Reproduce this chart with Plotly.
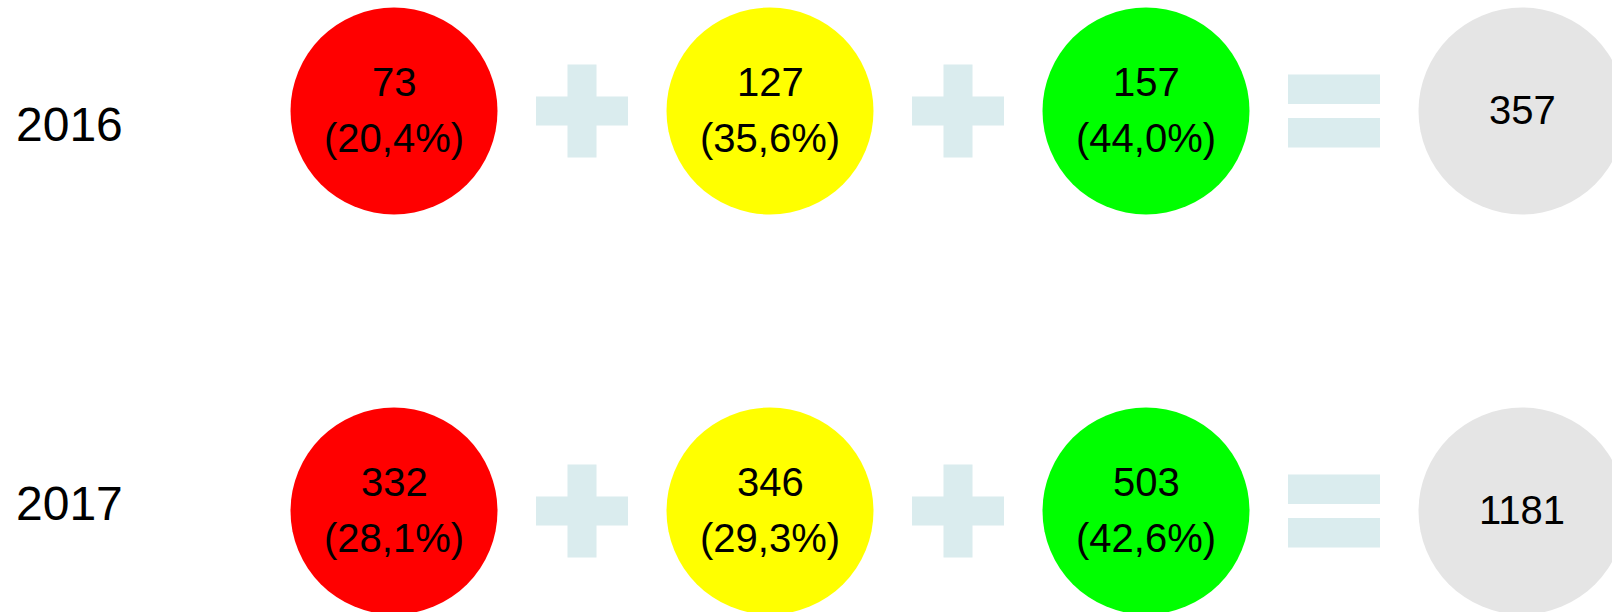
import plotly.graph_objects as go

# ---- data ----
YEARS = ["2016", "2017"]
CATEGORIES = ["rot", "gelb", "grün"]
VALUES_2016 = [73, 127, 157]
VALUES_2017 = [332, 346, 503]
SERIES = [VALUES_2016, VALUES_2017]

# ---- style ----
CAT_COLORS = ["#ff0000", "#ffff00", "#00ff00"]
TOTAL_COLOR = "#e5e5e5"
OP_COLOR = "#daecee"
FONT = "Liberation Sans, Arial, sans-serif"
CIRCLE_PX = 207
TEXT_SIZE = 40
YEAR_SIZE = 48

W, H = 1612, 612

fig = go.Figure()

n_cat = len(CATEGORIES)
xs, ys, cols = [], [], []
for r, vals in enumerate(SERIES):
    for c in range(n_cat):
        xs.append(c); ys.append(r); cols.append(CAT_COLORS[c])
    xs.append(n_cat); ys.append(r); cols.append(TOTAL_COLOR)

fig.add_trace(go.Scatter(
    x=xs, y=ys, mode="markers",
    marker=dict(size=CIRCLE_PX, color=cols, line=dict(width=0)),
    hoverinfo="skip", showlegend=False, cliponaxis=True,
))

annotations = []
shapes = []

def fmt_pct(v, tot):
    return f"({v / tot * 100:.1f}%)".replace(".", ",")

for r, vals in enumerate(SERIES):
    total = sum(vals)
    for c, v in enumerate(vals):
        annotations.append(dict(x=c, y=r, xref="x", yref="y", text=str(v),
                                showarrow=False, yshift=29,
                                font=dict(family=FONT, size=TEXT_SIZE, color="#000")))
        annotations.append(dict(x=c, y=r, xref="x", yref="y", text=fmt_pct(v, total),
                                showarrow=False, yshift=-27,
                                font=dict(family=FONT, size=TEXT_SIZE, color="#000")))
    annotations.append(dict(x=n_cat, y=r, xref="x", yref="y", text=str(total),
                            showarrow=False, yshift=1,
                            font=dict(family=FONT, size=TEXT_SIZE, color="#000")))
    # year label (on the year axis)
    annotations.append(dict(x=-1, y=r, xref="x", yref="y2", text=YEARS[r],
                            showarrow=False, xanchor="left", xshift=-4,
                            font=dict(family=FONT, size=YEAR_SIZE, color="#000")))
    # operators between circles
    for k in range(n_cat):
        xa = k + 0.5
        if k < n_cat - 1:  # plus
            shapes.append(dict(type="rect", xref="x", yref="y", xsizemode="pixel", ysizemode="pixel",
                               xanchor=xa, yanchor=r, x0=-46, x1=46, y0=-14.5, y1=14.5,
                               fillcolor=OP_COLOR, line=dict(width=0), layer="below"))
            shapes.append(dict(type="rect", xref="x", yref="y", xsizemode="pixel", ysizemode="pixel",
                               xanchor=xa, yanchor=r, x0=-14.5, x1=14.5, y0=-46.5, y1=46.5,
                               fillcolor=OP_COLOR, line=dict(width=0), layer="below"))
        else:  # equals
            for y0, y1 in [(7, 36.5), (-36.5, -7)]:
                shapes.append(dict(type="rect", xref="x", yref="y", xsizemode="pixel", ysizemode="pixel",
                                   xanchor=xa, yanchor=r, x0=-46, x1=46, y0=y0, y1=y1,
                                   fillcolor=OP_COLOR, line=dict(width=0), layer="below"))

# axes: columns 376 px apart, rows 400 px apart
COL_PX, ROW_PX = 376, 400
X0_PX, Y0_PX = 394, 111
x_range = [-X0_PX / COL_PX, (W - X0_PX) / COL_PX]
y_range = [(H - Y0_PX) / ROW_PX, -Y0_PX / ROW_PX]
YR_PX, YR0_PX = 379.5, 124
y2_range = [(H - YR0_PX) / YR_PX, -YR0_PX / YR_PX]

fig.update_layout(
    width=W, height=H,
    margin=dict(l=0, r=0, t=0, b=0),
    paper_bgcolor="white", plot_bgcolor="white",
    xaxis=dict(range=x_range, visible=False, fixedrange=True),
    yaxis=dict(range=y_range, visible=False, fixedrange=True),
    yaxis2=dict(range=y2_range, visible=False, overlaying="y", fixedrange=True),
    annotations=annotations,
    shapes=shapes,
    showlegend=False,
)

fig.write_html("out.html", config={"displayModeBar": False},
               post_script="document.body.style.margin='0';document.body.style.overflow='hidden';")
